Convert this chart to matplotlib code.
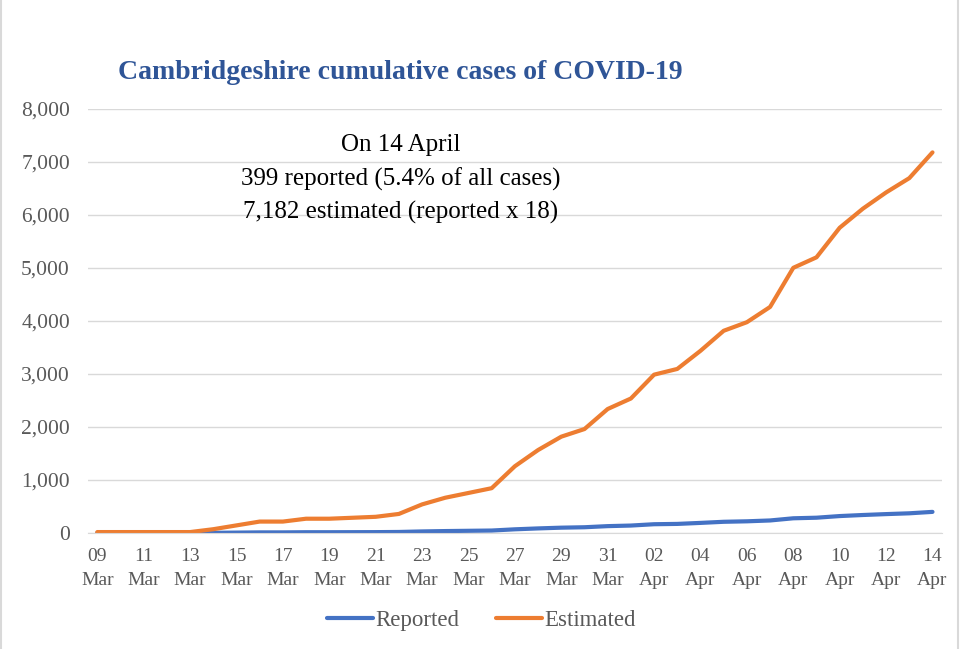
import matplotlib
matplotlib.use("Agg")
import matplotlib.pyplot as plt
from matplotlib.lines import Line2D

# days 09 Mar .. 14 Apr
days = ["09\nMar", "10\nMar", "11\nMar", "12\nMar", "13\nMar", "14\nMar", "15\nMar",
        "16\nMar", "17\nMar", "18\nMar", "19\nMar", "20\nMar", "21\nMar", "22\nMar",
        "23\nMar", "24\nMar", "25\nMar", "26\nMar", "27\nMar", "28\nMar", "29\nMar",
        "30\nMar", "31\nMar", "01\nApr", "02\nApr", "03\nApr", "04\nApr", "05\nApr",
        "06\nApr", "07\nApr", "08\nApr", "09\nApr", "10\nApr", "11\nApr", "12\nApr",
        "13\nApr", "14\nApr"]
reported = [1, 1, 1, 1, 1, 4, 8, 12, 12, 15, 15, 16, 17, 20, 30, 37, 42, 47, 70,
            87, 101, 109, 130, 141, 166, 172, 191, 212, 221, 237, 278, 289, 320,
            340, 357, 372, 399]
estimated = [18, 18, 18, 18, 18, 72, 144, 216, 216, 270, 270, 288, 306, 360, 540,
             666, 756, 846, 1260, 1566, 1818, 1962, 2340, 2538, 2988, 3096, 3438,
             3816, 3978, 4266, 5004, 5202, 5760, 6120, 6426, 6696, 7182]
yticks = [0, 1000, 2000, 3000, 4000, 5000, 6000, 7000, 8000]

plt.rcParams['font.family'] = ['Liberation Serif', 'DejaVu Serif']
grey = "#595959"
blue = "#4472C4"
orange = "#ED7D31"

fig = plt.figure(figsize=(9.68, 6.49), dpi=100)
ax = fig.add_axes([0.0909, 0.1787, 0.882, 0.6533])

x = list(range(len(days)))
ax.plot(x, reported, color=blue, lw=3, solid_capstyle='round', label="Reported")
ax.plot(x, estimated, color=orange, lw=3, solid_capstyle='round', label="Estimated")

ax.set_xlim(-0.4, 36.4)
ax.set_ylim(0, 8000)
ax.set_yticks(yticks)
ax.set_yticklabels([f"{v:,}" for v in yticks])
ax.set_xticks(x[::2])
ax.set_xticklabels(days[::2])
ax.tick_params(axis='y', length=0, pad=13, labelsize=15.5, labelcolor=grey)
ax.tick_params(axis='x', length=0, pad=11, labelsize=14, labelcolor=grey)
for lab in ax.get_xticklabels():
    lab.set_linespacing(1.5)
ax.grid(axis='y', color="#D9D9D9", lw=1)
ax.set_axisbelow(True)
for s in ["top", "right", "left"]:
    ax.spines[s].set_visible(False)
ax.spines["bottom"].set_color("#D9D9D9")

fig.text(0.414, 0.888, "Cambridgeshire cumulative cases of COVID-19", ha='center',
         va='center', fontsize=20, fontweight='bold', color="#2F5597")
ax.text(0.366, 0.94, "On 14 April\n399 reported (5.4% of all cases)\n7,182 estimated (reported x 18)",
        transform=ax.transAxes, ha='center', va='top', fontsize=18, linespacing=1.6,
        color="black")

handles = [Line2D([], [], color=blue, lw=3, solid_capstyle='round'),
           Line2D([], [], color=orange, lw=3, solid_capstyle='round')]
fig.legend(handles, ["Reported", "Estimated"], loc='center', bbox_to_anchor=(0.497, 0.044),
           ncol=2, frameon=False, fontsize=16.5, labelcolor=grey, handlelength=2.0,
           handletextpad=0.1, columnspacing=1.6)

fig.add_artist(Line2D([0.001, 0.001], [0, 1], transform=fig.transFigure, color="#D9D9D9", lw=1.5))
fig.add_artist(Line2D([0.990, 0.990], [0, 1], transform=fig.transFigure, color="#D9D9D9", lw=1.5))

fig.savefig("out.png", dpi=100, facecolor="white")
